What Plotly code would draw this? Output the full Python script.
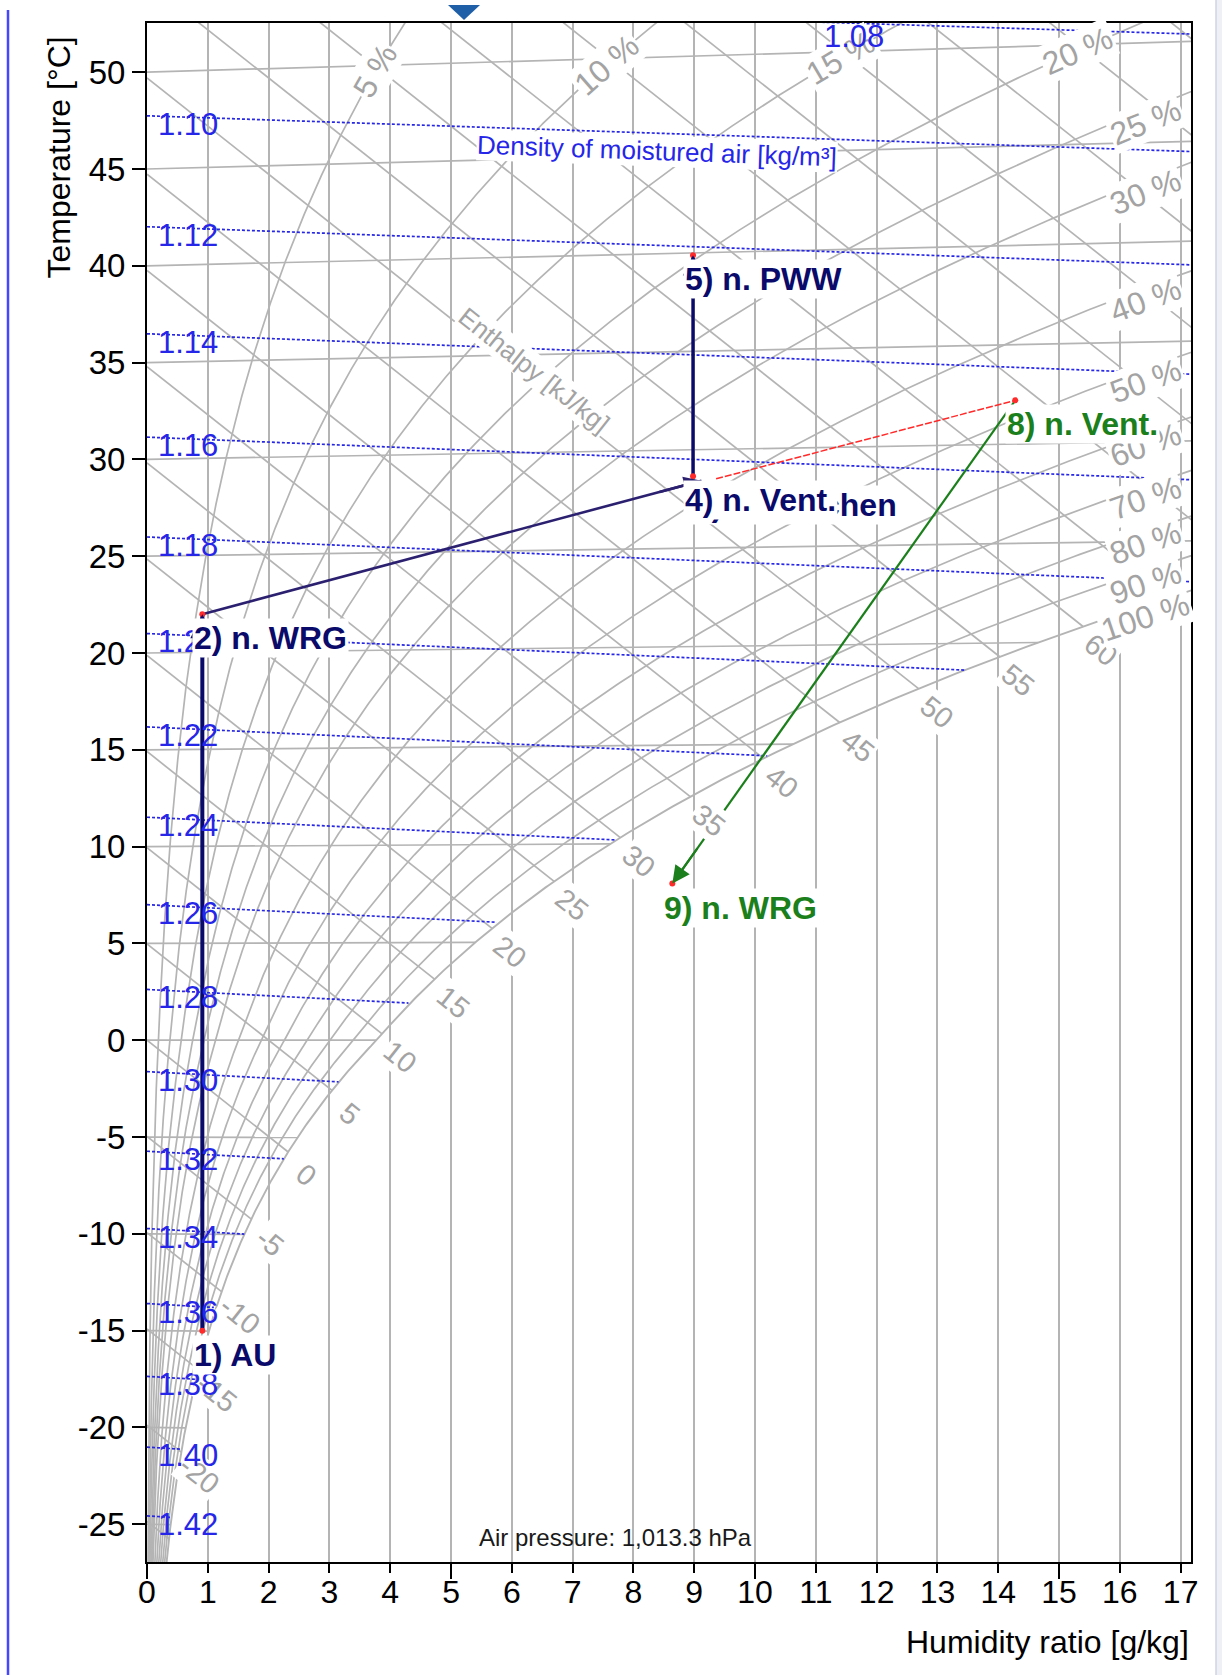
import math
import numpy as np
import plotly.graph_objects as go

# ---------------- values ----------------
x_tick_vals = list(range(0, 18))
x_tick_text = [str(v) for v in x_tick_vals]
y_tick_vals = list(range(-25, 55, 5))
y_tick_text = [str(v) for v in y_tick_vals]          # plain hyphen minus, as in the picture
x_major_ticks = [0, 5, 10, 15]

rh_levels = [5, 10, 15, 20, 25, 30, 40, 50, 60, 70, 80, 90, 100]   # relative humidity [%]
isotherm_levels = list(range(-25, 55, 5))                          # temperature [°C]
enthalpy_levels = list(range(-25, 100, 5))                         # enthalpy [kJ/kg]
enthalpy_label_levels = list(range(-20, 65, 5))
density_levels = [1.08, 1.10, 1.12, 1.14, 1.16, 1.18, 1.20, 1.22, 1.24,
                  1.26, 1.28, 1.30, 1.32, 1.34, 1.36, 1.38, 1.40, 1.42]  # kg/m³

state_names = ["1) AU", "2) n. WRG", "3) n. Mischen", "4) n. Vent.", "5) n. PWW",
               "8) n. Vent.", "9) n. WRG"]
state_x = [0.91, 0.91, 9.12, 8.98, 8.98, 14.28, 8.64]        # humidity ratio [g/kg]
state_T = [-15.0, 22.0, 28.9, 29.13, 40.55, 33.05, 8.09]     # temperature [°C]
state_dot = [True, True, False, True, True, True, True]
exhaust_x = [9.36, 14.28]
exhaust_T = [29.0, 33.05]
pressure_hpa = 1013.25

# ---------------- layout constants ----------------
W, H = 1222, 1675
ML, MR, MT, MB = 147, 31, 23, 113
X0, X1 = 0.0, 17.17
Y0, Y1 = -26.95, 52.54
PLOT_W = W - ML - MR
PLOT_H = H - MT - MB
PXX = PLOT_W / (X1 - X0)
PXY = PLOT_H / (Y1 - Y0)

FONT = "Liberation Sans, Arial, sans-serif"
GRAY_LINE = "#b4b4b4"
GRAY_TEXT = "#a3a3a3"
BLUE = "#2626e8"
NAVY = "#0a0a6a"
INDIGO = "#2b2070"
GREEN = "#1b7f1b"
RED = "#ff2a2a"

# ---------------- psychrometric construction of the chart grid ----------------
P = pressure_hpa * 100.0


def psat(t):
    t = np.asarray(t, dtype=float)
    return np.where(t >= 0, 611.2 * np.exp(17.62 * t / (243.12 + t)),
                    611.2 * np.exp(22.46 * t / (272.62 + t)))


def hum(t, phi):
    pw = phi * psat(t)
    return 622.0 * pw / (P - pw)


def t_axis(t, x):
    # Mollier oblique ordinate expressed in °C
    return t * (1.0 + 1.86 * x / 1006.0)


def h_of(t, x):
    return 1.006 * t + x * (2.501 + 0.00186 * t)


def bisect(f, lo, hi, n=70):
    flo = f(lo)
    for _ in range(n):
        mid = 0.5 * (lo + hi)
        fm = f(mid)
        if (fm > 0) == (flo > 0):
            lo, flo = mid, fm
        else:
            hi = mid
    return 0.5 * (lo + hi)


def t_sat_for_h(h):
    return bisect(lambda t: float(h_of(t, hum(t, 1.0))) - h, -45.0, 70.0)


def t_for_x(x, phi):
    return bisect(lambda t: float(hum(t, phi)) - x, -45.0, 90.0)


fig = go.Figure()
gl = dict(color=GRAY_LINE, width=1.7)

# isotherms
for t in isotherm_levels:
    xe = min(float(hum(t, 1.0)), 17.6)
    fig.add_trace(go.Scatter(x=[0.0, xe], y=[t, float(t_axis(t, xe))], mode="lines",
                             line=gl, hoverinfo="skip", showlegend=False))

# relative humidity curves
t_arr = np.arange(-28.0, 60.01, 0.1)
for rh in rh_levels:
    xr = hum(t_arr, rh / 100.0)
    m = xr <= 19.0
    fig.add_trace(go.Scatter(x=xr[m], y=t_axis(t_arr[m], xr[m]), mode="lines",
                             line=dict(color=GRAY_LINE, width=1.9 if rh == 100 else 1.7),
                             hoverinfo="skip", showlegend=False))

# enthalpy lines (end at saturation)
sat_points = {}
for h in enthalpy_levels:
    ts = t_sat_for_h(h)
    xs = float(hum(ts, 1.0))
    sat_points[h] = xs
    xe = min(xs, 17.6)
    fig.add_trace(go.Scatter(x=[0.0, xe], y=[h / 1.006, (h - 2.501 * xe) / 1.006], mode="lines",
                             line=gl, hoverinfo="skip", showlegend=False))

# density lines
xg = np.arange(0.0, 17.65, 0.05)
dens_label_pos = []
for rho in density_levels:
    xk = xg / 1000.0
    tK = P * (1 + xk) / (rho * 287.05 * (1 + 1.6078 * xk))
    tt = tK - 273.15
    m = xg <= hum(tt, 1.0)
    xd, Td = xg[m], t_axis(tt[m], xg[m])
    fig.add_trace(go.Scatter(x=xd, y=Td, mode="lines",
                             line=dict(color=BLUE, width=1.7, dash="3px,2px"),
                             hoverinfo="skip", showlegend=False))
    if Td[0] <= Y1:
        dens_label_pos.append((0.15, float(np.interp(0.15, xd, Td))))
    else:
        i = int(np.argmax(Td <= Y1))
        dens_label_pos.append((float(xd[i]) - 0.45, Y1 - 0.3))

# ---------------- process lines ----------------
segments = [(0, 1, NAVY, 4.0, 1.2), (1, 2, INDIGO, 2.6, 1.35), (3, 4, NAVY, 3.4, 1.2),
            (5, 6, GREEN, 2.2, 1.6)]
for a, b, col, w, s in segments:
    fig.add_trace(go.Scatter(x=[state_x[a], state_x[b]], y=[state_T[a], state_T[b]], mode="lines",
                             line=dict(color=col, width=w), hoverinfo="skip", showlegend=False))
fig.add_trace(go.Scatter(x=exhaust_x, y=exhaust_T, mode="lines",
                         line=dict(color=RED, width=1.5, dash="7px,2px"),
                         hoverinfo="skip", showlegend=False))
fig.add_trace(go.Scatter(x=[x for x, d in zip(state_x, state_dot) if d],
                         y=[t for t, d in zip(state_T, state_dot) if d],
                         mode="markers", marker=dict(color=RED, size=6),
                         hoverinfo="skip", showlegend=False))
# invisible trace so the overlay axis with the long ticks is drawn
fig.add_trace(go.Scatter(x=[None], y=[None], xaxis="x2", showlegend=False, hoverinfo="skip"))

# ---------------- annotations ----------------
ann = []
gray_font = dict(family=FONT, size=29, color=GRAY_TEXT)
ang_h = math.degrees(math.atan(2.501 / 1.006 * PXY / PXX))

for h in enthalpy_label_levels:
    xl = sat_points[h] + 0.3
    Tl = (h - 2.501 * xl) / 1.006 - 0.45
    ann.append(dict(x=xl, y=Tl, xref="x", yref="y", text=str(h), showarrow=False,
                    textangle=ang_h, font=gray_font, bgcolor="white", borderpad=1))


def curve_angle(t0, phi):
    x1, x2 = float(hum(t0 - 0.2, phi)), float(hum(t0 + 0.2, phi))
    T1, T2 = float(t_axis(t0 - 0.2, x1)), float(t_axis(t0 + 0.2, x2))
    return -math.degrees(math.atan2((T2 - T1) * PXY, (x2 - x1) * PXX))


for rh in rh_levels:
    phi = rh / 100.0
    if rh <= 20:
        t0 = 49.7
        xl = float(hum(t0, phi))
        ysh = 0
    else:
        xl = 16.42
        t0 = t_for_x(xl, phi)
        ysh = -12
    Tl = float(t_axis(t0, xl))
    ann.append(dict(x=xl, y=Tl, xref="x", yref="y", text=f"{rh} %", showarrow=False,
                    textangle=curve_angle(t0, phi), yshift=ysh,
                    font=dict(family=FONT, size=32, color=GRAY_TEXT),
                    bgcolor="white", borderpad=1))

for rho, (xl, Tl) in zip(density_levels, dens_label_pos):
    ann.append(dict(x=xl, y=Tl, xref="x", yref="y", text=f"{rho:.2f}", showarrow=False,
                    xanchor="left", yanchor="middle", yshift=-8,
                    font=dict(family=FONT, size=31, color=BLUE)))

ann.append(dict(x=8.39, y=45.91, xref="x", yref="y", text="Density of moistured air [kg/m³]",
                showarrow=False, textangle=2, font=dict(family=FONT, size=26, color=BLUE),
                bgcolor="white", borderpad=0))
ann.append(dict(x=6.36, y=34.6, xref="x", yref="y", text="Enthalpy [kJ/kg]",
                showarrow=False, textangle=ang_h, font=dict(family=FONT, size=26, color=GRAY_TEXT),
                bgcolor="white", borderpad=0))
ann.append(dict(x=7.7, y=-25.7, xref="x", yref="y", text="Air pressure: 1,013.3 hPa",
                showarrow=False, font=dict(family=FONT, size=24, color="#1a1a1a")))

# arrow heads of the process steps
for a, b, col, w, s in segments:
    dxp = (state_x[b] - state_x[a]) * PXX
    dyp = (state_T[b] - state_T[a]) * PXY
    f = 45.0 / math.hypot(dxp, dyp)
    ann.append(dict(x=state_x[b], y=state_T[b], xref="x", yref="y",
                    ax=state_x[b] - f * (state_x[b] - state_x[a]),
                    ay=state_T[b] - f * (state_T[b] - state_T[a]),
                    axref="x", ayref="y", text="", showarrow=True, arrowhead=2,
                    arrowsize=s, arrowwidth=w, arrowcolor=col, standoff=0))

# state labels
for i, name in enumerate(state_names):
    col = GREEN if name.startswith(("8)", "9)")) else NAVY
    ann.append(dict(x=state_x[i], y=state_T[i], xref="x", yref="y", text=name, showarrow=False,
                    xanchor="left", yanchor="top", xshift=-10, yshift=-4,
                    font=dict(family=FONT, size=32, color=col, weight="bold"),
                    bgcolor="white", borderpad=1))

# axis titles
ann.append(dict(x=(59 - ML) / PLOT_W, y=(H - MB - 157.5) / PLOT_H, xref="paper", yref="paper",
                text="Temperature [°C]", textangle=-90, showarrow=False,
                xanchor="center", yanchor="middle", font=dict(family=FONT, size=32, color="black")))
ann.append(dict(x=1.0, y=(H - MB - 1642) / PLOT_H, xref="paper", yref="paper",
                text="Humidity ratio [g/kg]", showarrow=False, xanchor="right", yanchor="middle",
                font=dict(family=FONT, size=32, color="black")))

# ---------------- decoration of the screenshot ----------------
def px_to_paper_x(px):
    return (px - ML) / PLOT_W


def px_to_paper_y(py):
    return (H - MB - py) / PLOT_H


shapes = [
    dict(type="line", xref="paper", yref="paper", x0=px_to_paper_x(8), x1=px_to_paper_x(8),
         y0=px_to_paper_y(H), y1=px_to_paper_y(10), line=dict(color="#4646ff", width=2.5)),
    dict(type="rect", xref="paper", yref="paper", x0=px_to_paper_x(1216), x1=px_to_paper_x(1224),
         y0=px_to_paper_y(H), y1=px_to_paper_y(0), fillcolor="#eef0f6", line=dict(width=0)),
    dict(type="line", xref="paper", yref="paper", x0=px_to_paper_x(1216), x1=px_to_paper_x(1216),
         y0=px_to_paper_y(H), y1=px_to_paper_y(0), line=dict(color="#cfd3e4", width=1.5)),
    dict(type="path", xref="paper", yref="paper",
         path=(f"M {px_to_paper_x(448)} {px_to_paper_y(5)} L {px_to_paper_x(480)} {px_to_paper_y(5)} "
               f"L {px_to_paper_x(464)} {px_to_paper_y(20)} Z"),
         fillcolor="#1f5fa8", line=dict(width=0)),
]

fig.update_layout(
    width=W, height=H, autosize=False,
    margin=dict(l=ML, r=MR, t=MT, b=MB, pad=0),
    paper_bgcolor="white", plot_bgcolor="white", showlegend=False,
    font=dict(family=FONT, size=32, color="black"),
    xaxis=dict(range=[X0, X1], tickmode="array", tickvals=x_tick_vals, ticktext=x_tick_text,
               ticks="outside", ticklen=9, tickwidth=2, tickcolor="black", ticklabelstandoff=-8,
               showgrid=True, gridcolor=GRAY_LINE, gridwidth=1.7,
               showline=True, linecolor="black", linewidth=2, mirror=True, zeroline=False,
               tickfont=dict(family=FONT, size=32, color="black")),
    xaxis2=dict(range=[X0, X1], overlaying="x", anchor="y", side="bottom",
                tickmode="array", tickvals=x_major_ticks, ticks="outside", ticklen=16,
                tickwidth=2, tickcolor="black", showticklabels=False, showgrid=False,
                showline=False, zeroline=False),
    yaxis=dict(range=[Y0, Y1], tickmode="array", tickvals=y_tick_vals, ticktext=y_tick_text,
               ticks="outside", ticklen=13, tickwidth=2, tickcolor="black", showgrid=False,
               showline=True, linecolor="black", linewidth=2, mirror=True, zeroline=False,
               tickfont=dict(family=FONT, size=33, color="black")),
    annotations=ann,
    shapes=shapes,
)

fig.write_html("out.html")
